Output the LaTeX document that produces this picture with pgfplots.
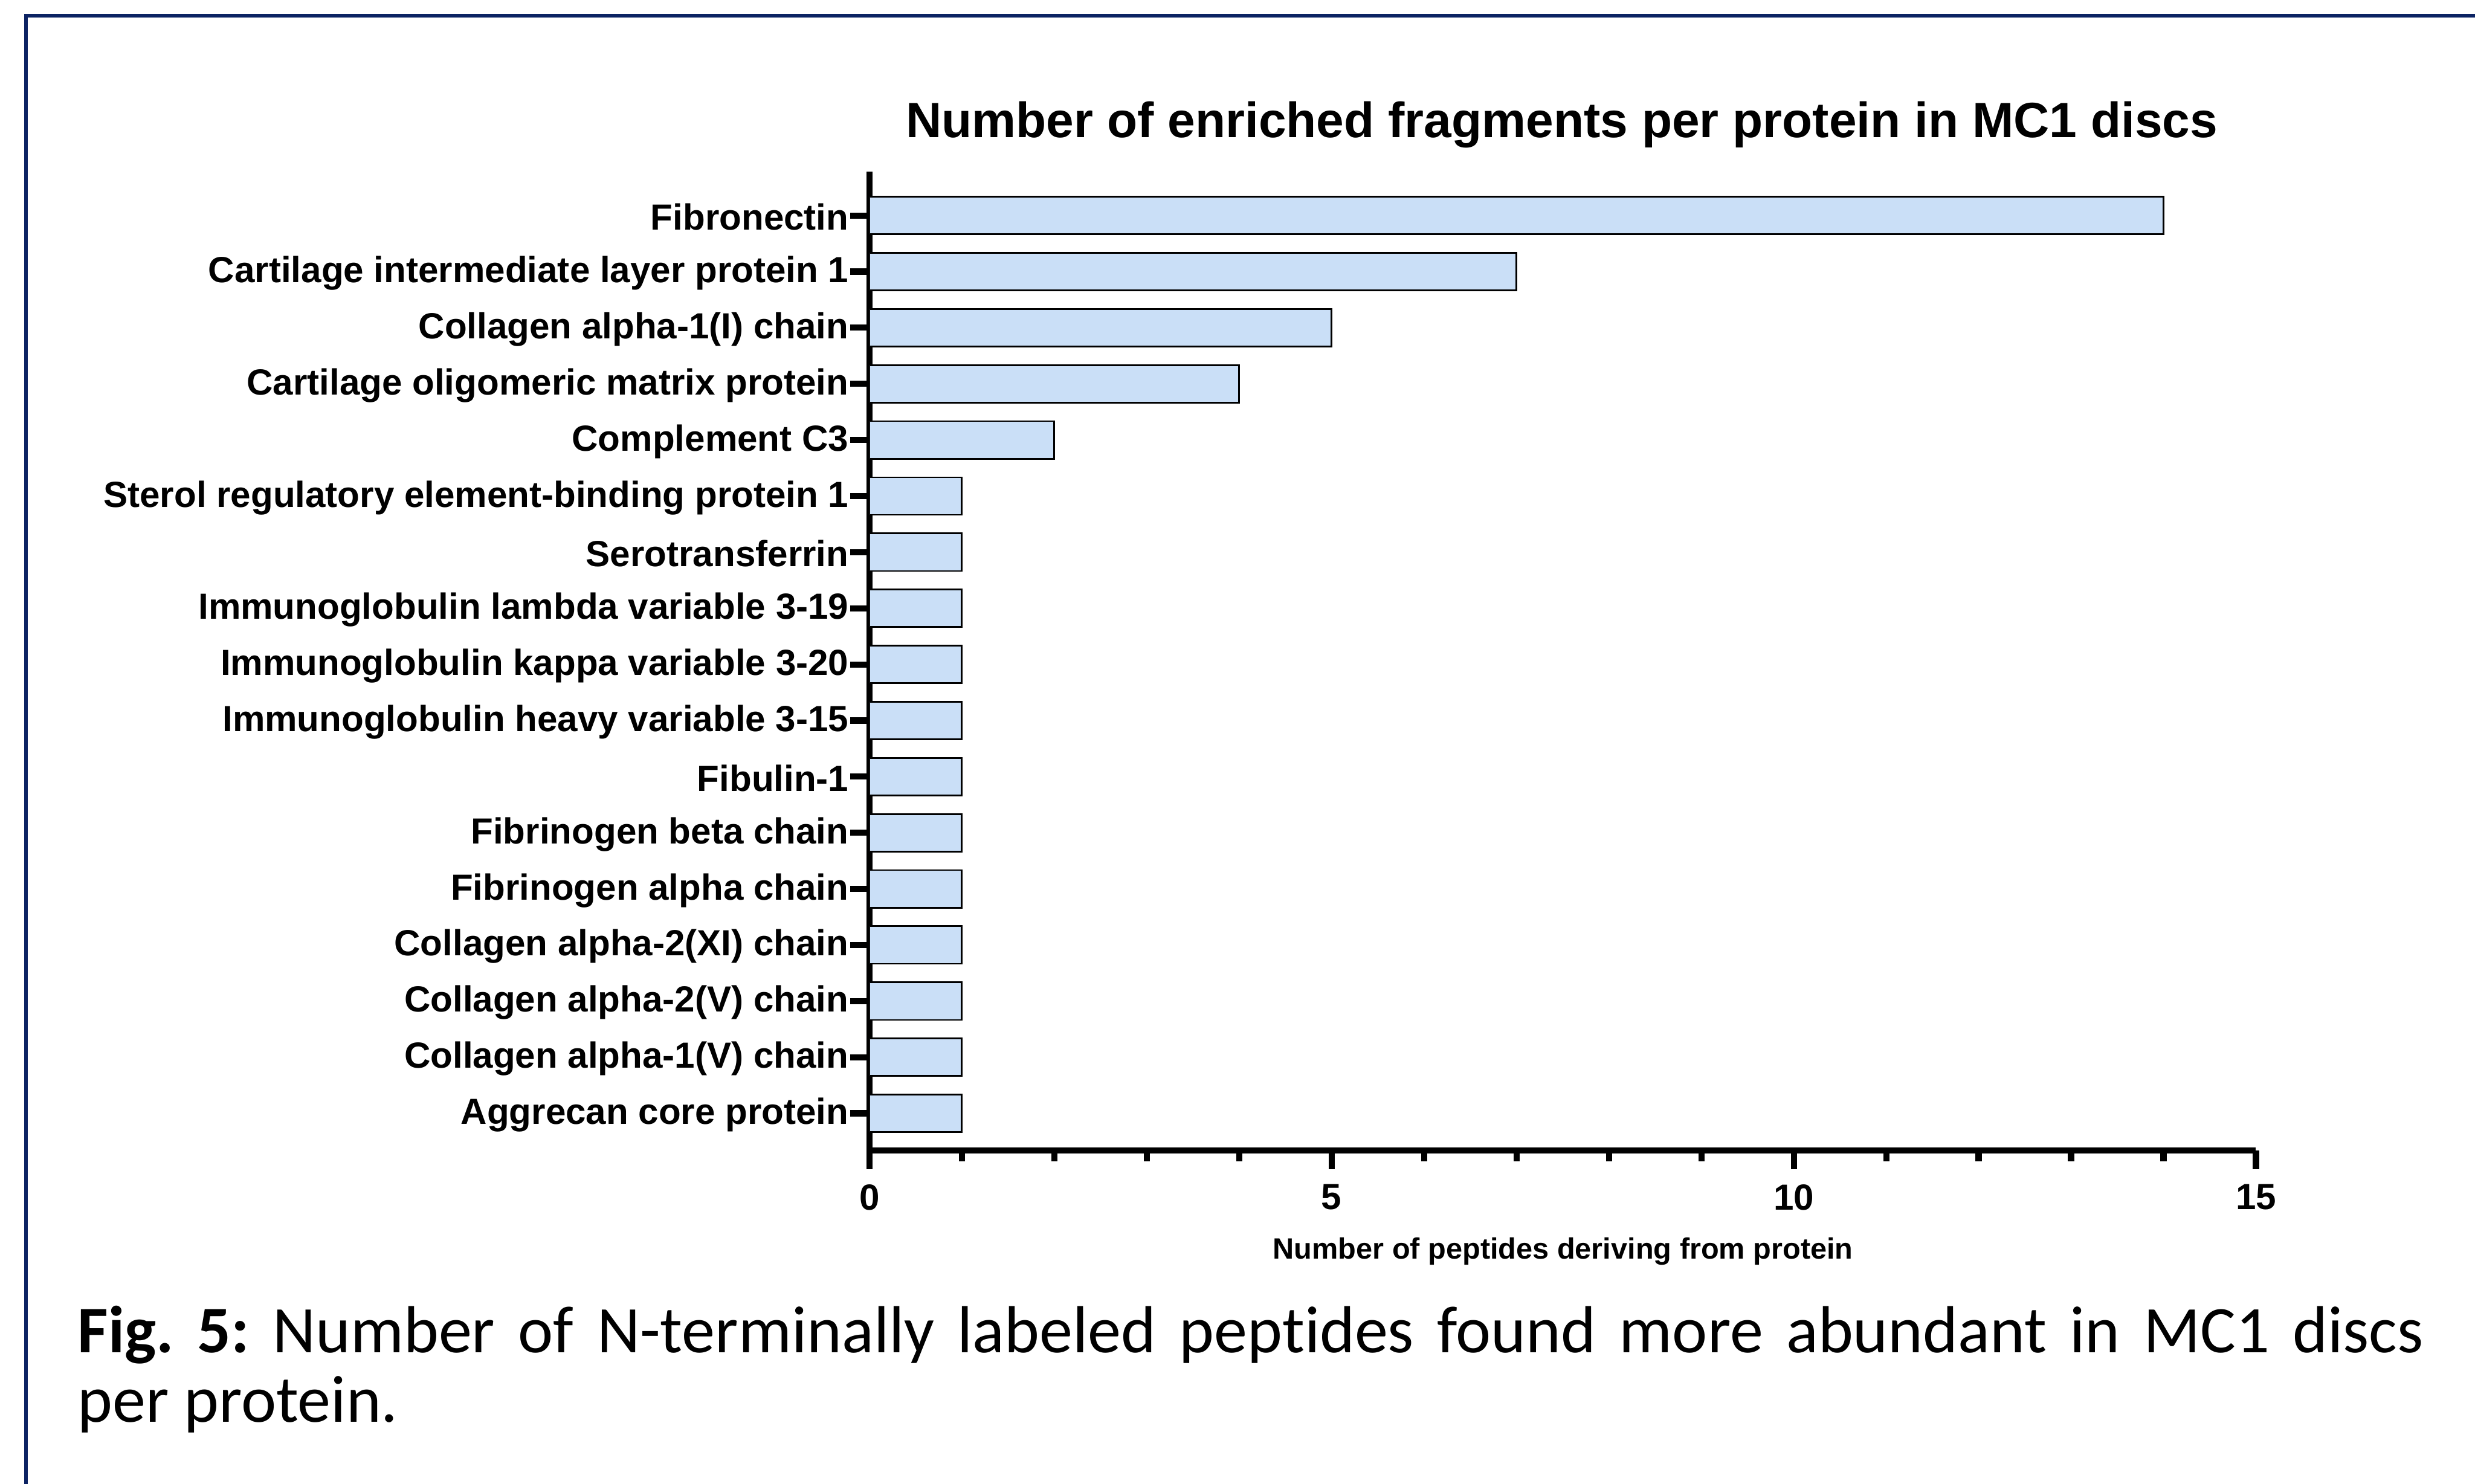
\documentclass[border=0pt]{standalone}
\usepackage{fontspec}
\setmainfont{Liberation Sans}
\newfontfamily\capfont[Ligatures={NoCommon}]{Carlito}
\usepackage{pgfplots}
\pgfplotsset{compat=1.18}
\definecolor{framecol}{HTML}{0C2363}
\definecolor{barfill}{HTML}{CADFF7}

\begin{document}
\begin{tikzpicture}
\useasboundingbox (0mm,0mm) rectangle (156.8mm,94.0mm);
\draw[framecol, line width=0.62pt] (1.64mm,-1mm) -- (1.64mm,93.01mm) -- (158mm,93.01mm);
\begin{axis}[
  at={(55.08mm,21.12mm)}, anchor=south west, scale only axis,
  width=87.84mm, height=62mm,
  xmin=0, xmax=15, ymin=-0.66, ymax=16.78, enlargelimits=false,
  axis lines=left, axis line style={line width=1.1pt,-},
  tick align=outside, major tick length=1.2mm, minor tick length=0.68mm,
  every tick/.append style={black, line width=1.1pt},
  xtick={0,5,10,15}, minor xtick={1,2,3,4,6,7,8,9,11,12,13,14},
  ytick={0,...,16},
  yticklabels={Aggrecan core protein,Collagen alpha-1(V) chain,Collagen alpha-2(V) chain,Collagen alpha-2(XI) chain,Fibrinogen alpha chain,Fibrinogen beta chain,Fibulin-1,Immunoglobulin heavy variable 3-15,Immunoglobulin kappa variable 3-20,Immunoglobulin lambda variable 3-19,Serotransferrin,Sterol regulatory element-binding protein 1,Complement C3,Cartilage oligomeric matrix protein,Collagen alpha-1(I) chain,Cartilage intermediate layer protein 1,Fibronectin},
  ticklabel style={font=\bfseries\fontsize{6.55}{7}\selectfont},
  /pgf/number format/assume math mode=true,
  xticklabel style={inner sep=0pt, yshift=-0.88mm},
  yticklabel style={inner sep=0pt, xshift=-0.05mm, yshift=-0.1mm},
  xbar, bar width=2.38mm,
]
\addplot[fill=barfill, draw=black, line width=0.3pt] coordinates {
  (1,0) (1,1) (1,2) (1,3) (1,4) (1,5) (1,6) (1,7) (1,8) (1,9) (1,10) (1,11)
  (2,12) (4,13) (5,14) (7,15) (14,16)
};
\end{axis}
\node[anchor=base, inner sep=0pt, font=\bfseries\fontsize{8.94}{10}\selectfont] at (98.95mm,85.31mm) {Number of enriched fragments per protein in MC1 discs};
\node[anchor=base, inner sep=0pt, font=\bfseries\fontsize{5.3}{6}\selectfont] at (99.02mm,14.26mm) {Number of peptides deriving from protein};
\node[anchor=base west, inner sep=0pt, text width=148.63mm, align=justify, font=\capfont\fontsize{12}{12.57}\selectfont] at (4.85mm,8.32mm) {\hyphenpenalty=10000\frenchspacing\textbf{Fig.\ 5:} Number of N-terminally labeled peptides found more abundant in MC1 discs\linebreak per protein.};
\end{tikzpicture}
\end{document}
